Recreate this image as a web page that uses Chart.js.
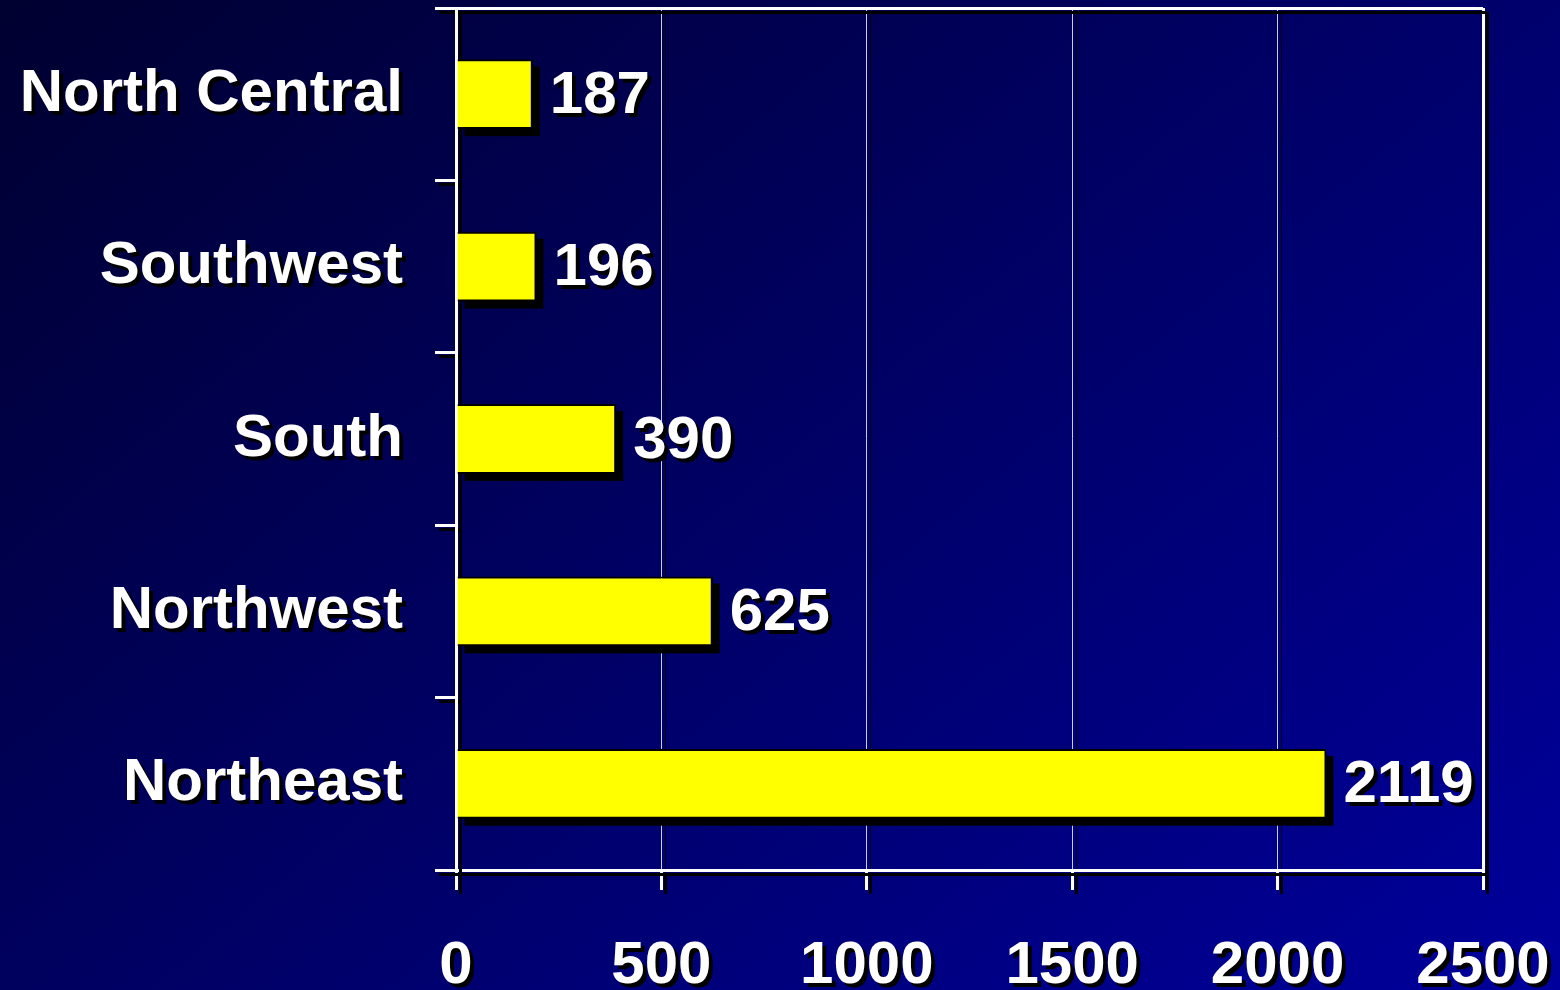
<!DOCTYPE html>
<html lang="en">
<head>
    <meta charset="UTF-8">
    <title>Regions</title>
    <script src="https://cdn.jsdelivr.net/npm/chart.js@4.4.0/dist/chart.umd.min.js"></script>
    <style>
        html, body {
            margin: 0;
            padding: 0;
        }
        body {
            width: 1560px;
            height: 990px;
            overflow: hidden;
            background: linear-gradient(140deg, #000030 0%, #00009c 100%);
        }
        #wrap {
            width: 1560px;
            height: 990px;
        }
    </style>
</head>
<body>
    <div id="wrap"><canvas id="regionChart"></canvas></div>

    <script>
        // dados
        const regions = ['North Central', 'Southwest', 'South', 'Northwest', 'Northeast'];
        const counts = [187, 196, 390, 625, 2119];
        const xTicks = [0, 500, 1000, 1500, 2000, 2500];

        const labelFont = { family: "'Liberation Sans', Arial, sans-serif", size: 60, weight: 'bold' };

        // sombras: texto/eixos com deslocamento pequeno, barras desenhadas à mão
        const shadowPlugin = {
            id: 'shadows',
            beforeDraw(chart) {
                const c = chart.ctx;
                c.shadowColor = '#000';
                c.shadowBlur = 0;
                c.shadowOffsetX = 4;
                c.shadowOffsetY = 4;
            },
            beforeDatasetsDraw(chart) {
                const c = chart.ctx;
                const meta = chart.getDatasetMeta(0);
                c.save();
                c.shadowColor = 'rgba(0,0,0,0)';
                c.shadowOffsetX = 0;
                c.shadowOffsetY = 0;
                c.fillStyle = '#000';
                meta.data.forEach(bar => {
                    const h = bar.height;
                    c.fillRect(bar.base + 7, bar.y - h / 2 + 7, bar.x - bar.base, h);
                });
                c.restore();
            },
            afterDatasetsDraw(chart) {
                const c = chart.ctx;
                const meta = chart.getDatasetMeta(0);
                c.save();
                c.shadowColor = '#000';
                c.shadowBlur = 0;
                c.shadowOffsetX = 4;
                c.shadowOffsetY = 4;
                c.fillStyle = '#fff';
                c.font = 'bold 60px "Liberation Sans", Arial, sans-serif';
                c.textAlign = 'left';
                c.textBaseline = 'middle';
                meta.data.forEach((bar, i) => {
                    c.fillText(String(counts[i]), bar.x + 17, bar.y + 2);
                });
                c.restore();
            }
        };

        const ctx = document.getElementById('regionChart').getContext('2d');
        const regionChart = new Chart(ctx, {
            type: 'bar',
            data: {
                labels: regions,
                datasets: [{
                    data: counts,
                    backgroundColor: '#ffff00',
                    borderColor: '#000',
                    borderWidth: 2,
                    categoryPercentage: 1,
                    barPercentage: 0.405
                }]
            },
            options: {
                indexAxis: 'y',
                responsive: true,
                maintainAspectRatio: false,
                animation: false,
                layout: { padding: { top: 8, right: 77, left: 0, bottom: 0 } },
                plugins: {
                    legend: { display: false },
                    tooltip: { enabled: false }
                },
                scales: {
                    x: {
                        min: 0,
                        max: 2500,
                        afterBuildTicks(scale) {
                            scale.ticks = xTicks.map(v => ({ value: v }));
                        },
                        afterFit(scale) {
                            scale.height = 120;
                            scale.paddingLeft = 0;
                            scale.paddingRight = 0;
                        },
                        border: { display: true, color: '#fff', width: 3 },
                        grid: {
                            color: c => (c.tick && (c.tick.value === 0 || c.tick.value === 2500)) ? '#fff' : 'rgba(255,255,255,0.8)',
                            lineWidth: c => (c.tick && (c.tick.value === 0 || c.tick.value === 2500)) ? 3 : 1,
                            tickColor: '#fff',
                            tickWidth: 3,
                            tickLength: 20
                        },
                        ticks: {
                            color: '#fff',
                            font: labelFont,
                            padding: 40,
                            maxRotation: 0,
                            callback: v => String(v)
                        }
                    },
                    y: {
                        afterFit(scale) {
                            scale.width = 456;
                            scale.paddingTop = 0;
                            scale.paddingBottom = 0;
                        },
                        border: { display: true, color: '#fff', width: 3 },
                        grid: {
                            offset: true,
                            color: c => (c.index === 0 || c.index === regions.length) ? '#fff' : 'rgba(0,0,0,0)',
                            lineWidth: 3,
                            tickColor: '#fff',
                            tickWidth: 3,
                            tickLength: 21
                        },
                        ticks: {
                            color: '#fff',
                            font: labelFont,
                            padding: 32
                        }
                    }
                }
            },
            plugins: [shadowPlugin]
        });
    </script>
</body>
</html>
